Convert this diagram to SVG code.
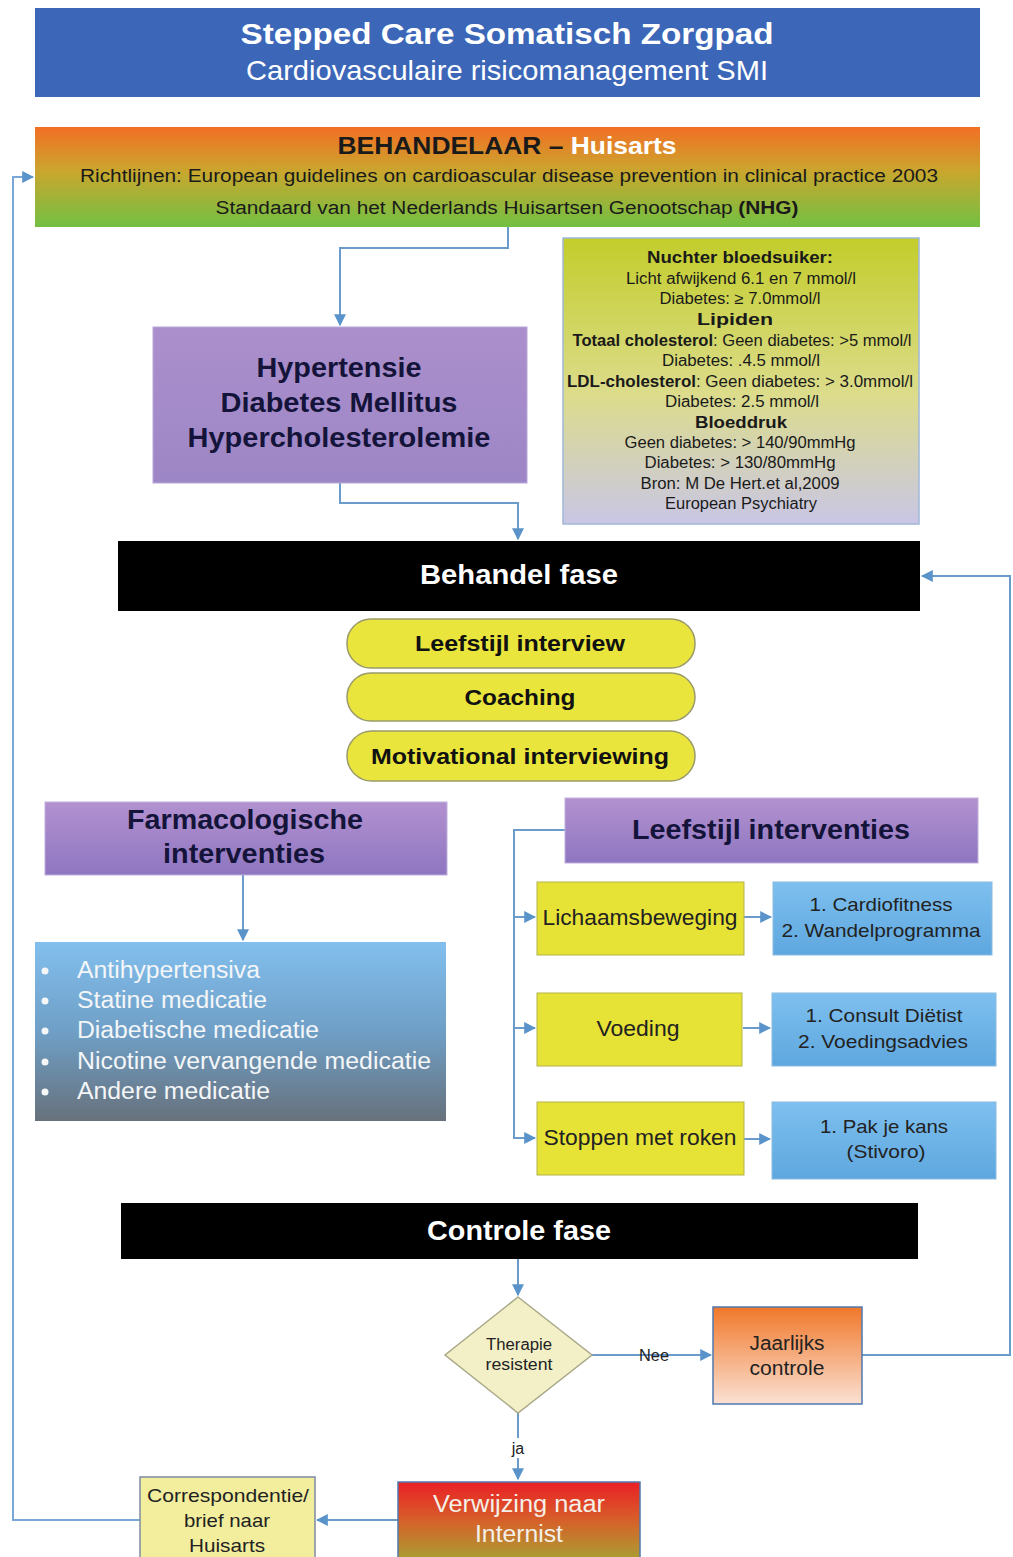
<svg xmlns="http://www.w3.org/2000/svg" width="1013" height="1557" viewBox="0 0 1013 1557">
<defs>
<linearGradient id="gOrangeGreen" x1="0" y1="0" x2="0" y2="1">
<stop offset="0" stop-color="#f26f24"/><stop offset="0.45" stop-color="#c9a72e"/><stop offset="1" stop-color="#72c043"/>
</linearGradient>
<linearGradient id="gInfo" x1="0" y1="0" x2="0" y2="1">
<stop offset="0" stop-color="#c3cd2a"/><stop offset="0.55" stop-color="#dcdc8c"/><stop offset="1" stop-color="#c9c6e6"/>
</linearGradient>
<linearGradient id="gPurple" x1="0" y1="0" x2="0" y2="1">
<stop offset="0" stop-color="#ab8fcc"/><stop offset="1" stop-color="#9d86c5"/>
</linearGradient>
<linearGradient id="gPurple2" x1="0" y1="0" x2="0" y2="1">
<stop offset="0" stop-color="#b391d0"/><stop offset="1" stop-color="#8e76c0"/>
</linearGradient>
<linearGradient id="gMed" x1="0" y1="0" x2="0" y2="1">
<stop offset="0" stop-color="#82bfee"/><stop offset="0.5" stop-color="#6f9fc6"/><stop offset="1" stop-color="#67717c"/>
</linearGradient>
<linearGradient id="gBlue" x1="0" y1="0" x2="0" y2="1">
<stop offset="0" stop-color="#7ec0ef"/><stop offset="1" stop-color="#5ea7df"/>
</linearGradient>
<linearGradient id="gJaar" x1="0" y1="0" x2="0" y2="1">
<stop offset="0" stop-color="#f0782a"/><stop offset="1" stop-color="#fbe1d3"/>
</linearGradient>
<linearGradient id="gVerw" x1="0" y1="0" x2="0" y2="1">
<stop offset="0" stop-color="#ea1f25"/><stop offset="0.5" stop-color="#d5632a"/><stop offset="1" stop-color="#a6a232"/>
</linearGradient>
<marker id="arrL" viewBox="0 0 10 10" refX="9" refY="5" markerWidth="12" markerHeight="12" orient="auto" markerUnits="userSpaceOnUse">
<path d="M0,0 L10,5 L0,10 z" fill="#5a93c9"/>
</marker>
</defs>
<style>
.t{font-family:"Liberation Sans",Arial,sans-serif;text-anchor:middle}
.b{font-weight:bold}
.c{fill:none;stroke:#6b9bcb;stroke-width:2}
.lp{fill:none;stroke:#7aa8d6;stroke-width:2}
.pill{fill:#e9e53c;stroke:#9a9a6a;stroke-width:1.5}
.yb{fill:#e7e236;stroke:#b3b34a;stroke-width:1}
.bb{fill:url(#gBlue);stroke:#8cbbe0;stroke-width:1}
</style>
<rect width="1013" height="1557" fill="#ffffff"/>

<g id="connectors">
<polyline class="lp" points="140,1520 13,1520 13,177 33,177" marker-end="url(#arrL)"/>
<polyline class="c" points="508,227 508,248 340,248 340,325" marker-end="url(#arrL)"/>
<polyline class="c" points="340,483 340,503 518,503 518,539" marker-end="url(#arrL)"/>
<polyline class="c" points="862,1355 1010,1355 1010,576 922,576" marker-end="url(#arrL)"/>
<polyline class="c" points="243,875 243,940" marker-end="url(#arrL)"/>
<polyline class="c" points="565,830 514,830 514,1138 535,1138" marker-end="url(#arrL)"/>
<polyline class="c" points="514,917 535,917" marker-end="url(#arrL)"/>
<polyline class="c" points="514,1028 535,1028" marker-end="url(#arrL)"/>
<polyline class="c" points="744,917 771,917" marker-end="url(#arrL)"/>
<polyline class="c" points="743,1028 770,1028" marker-end="url(#arrL)"/>
<polyline class="c" points="744,1139 770,1139" marker-end="url(#arrL)"/>
<polyline class="c" points="518,1259 518,1295" marker-end="url(#arrL)"/>
<polyline class="c" points="592,1355 711,1355" marker-end="url(#arrL)"/>
<polyline class="c" points="518,1413 518,1479" marker-end="url(#arrL)"/>
<polyline class="c" points="398,1520 317,1520" marker-end="url(#arrL)"/>
<text class="t" x="654" y="1361" font-size="16" fill="#222" textLength="30" lengthAdjust="spacingAndGlyphs">Nee</text>
<rect x="510" y="1438" width="16" height="20" fill="#ffffff"/>
<text class="t" x="518" y="1454" font-size="16" fill="#222">ja</text>
</g>

<g id="title">
<rect x="35" y="8" width="945" height="89" fill="#3c66b8"/>
<text class="t b" x="507" y="44" font-size="29" fill="#ffffff" textLength="533" lengthAdjust="spacingAndGlyphs">Stepped Care Somatisch Zorgpad</text>
<text class="t" x="507" y="80" font-size="28" fill="#ffffff" textLength="522" lengthAdjust="spacingAndGlyphs">Cardiovasculaire risicomanagement SMI</text>
</g>

<g id="behandelaar">
<rect x="35" y="127" width="945" height="100" fill="url(#gOrangeGreen)"/>
<text class="t b" x="507" y="154" font-size="24" fill="#1a1a1a" textLength="339" lengthAdjust="spacingAndGlyphs">BEHANDELAAR – <tspan fill="#ffffff">Huisarts</tspan></text>
<text class="t" x="509" y="182" font-size="18" fill="#1a1a1a" textLength="858" lengthAdjust="spacingAndGlyphs">Richtlijnen: European guidelines on cardioascular disease prevention in clinical practice 2003</text>
<text class="t" x="507" y="214" font-size="18" fill="#1a1a1a" textLength="583" lengthAdjust="spacingAndGlyphs">Standaard van het Nederlands Huisartsen Genootschap <tspan font-weight="bold">(NHG)</tspan></text>
</g>

<g id="criteria">
<rect x="563" y="238" width="356" height="286" fill="url(#gInfo)" stroke="#9fb8d8" stroke-width="1.5"/>
<g class="t" font-size="16" fill="#1a1a1a">
<text x="740" y="263" class="t b" textLength="186" lengthAdjust="spacingAndGlyphs">Nuchter bloedsuiker:</text>
<text x="741" y="284" textLength="230" lengthAdjust="spacingAndGlyphs">Licht afwijkend 6.1 en 7 mmol/l</text>
<text x="740" y="304" textLength="161" lengthAdjust="spacingAndGlyphs">Diabetes: ≥ 7.0mmol/l</text>
<text x="735" y="325" class="t b" textLength="76" lengthAdjust="spacingAndGlyphs">Lipiden</text>
<text x="742" y="346" textLength="339" lengthAdjust="spacingAndGlyphs"><tspan font-weight="bold">Totaal cholesterol</tspan>: Geen diabetes: &gt;5 mmol/l</text>
<text x="741" y="366" textLength="158" lengthAdjust="spacingAndGlyphs">Diabetes: .4.5 mmol/l</text>
<text x="740" y="387" textLength="346" lengthAdjust="spacingAndGlyphs"><tspan font-weight="bold">LDL-cholesterol</tspan>: Geen diabetes: &gt; 3.0mmol/l</text>
<text x="742" y="407" textLength="154" lengthAdjust="spacingAndGlyphs">Diabetes: 2.5 mmol/l</text>
<text x="741" y="428" class="t b" textLength="92" lengthAdjust="spacingAndGlyphs">Bloeddruk</text>
<text x="740" y="448" textLength="231" lengthAdjust="spacingAndGlyphs">Geen diabetes: &gt; 140/90mmHg</text>
<text x="740" y="468" textLength="191" lengthAdjust="spacingAndGlyphs">Diabetes: &gt; 130/80mmHg</text>
<text x="740" y="489" textLength="199" lengthAdjust="spacingAndGlyphs">Bron: M De Hert.et al,2009</text>
<text x="741" y="509" textLength="152" lengthAdjust="spacingAndGlyphs">European Psychiatry</text>
</g>
</g>

<g id="diagnoses">
<rect x="153" y="327" width="374" height="156" fill="url(#gPurple)" stroke="#b8a8d8" stroke-width="1"/>
<text class="t b" x="339" y="377" font-size="28" fill="#14143a" textLength="165" lengthAdjust="spacingAndGlyphs">Hypertensie</text>
<text class="t b" x="339" y="412" font-size="28" fill="#14143a" textLength="237" lengthAdjust="spacingAndGlyphs">Diabetes Mellitus</text>
<text class="t b" x="339" y="447" font-size="28" fill="#14143a" textLength="303" lengthAdjust="spacingAndGlyphs">Hypercholesterolemie</text>
</g>

<g id="behandel-fase">
<rect x="118" y="541" width="802" height="70" fill="#000000"/>
<text class="t b" x="519" y="584" font-size="27" fill="#ffffff" textLength="198" lengthAdjust="spacingAndGlyphs">Behandel fase</text>
</g>

<g id="leefstijl-interview">
<rect class="pill" x="347" y="619" width="348" height="49" rx="24"/>
<text class="t b" x="520" y="651" font-size="22" fill="#111" textLength="210" lengthAdjust="spacingAndGlyphs">Leefstijl interview</text>
</g>
<g id="coaching">
<rect class="pill" x="347" y="673" width="348" height="48" rx="24"/>
<text class="t b" x="520" y="705" font-size="22" fill="#111" textLength="111" lengthAdjust="spacingAndGlyphs">Coaching</text>
</g>
<g id="motivational-interviewing">
<rect class="pill" x="347" y="731" width="348" height="50" rx="25"/>
<text class="t b" x="520" y="764" font-size="22" fill="#111" textLength="298" lengthAdjust="spacingAndGlyphs">Motivational interviewing</text>
</g>

<g id="farmacologische">
<rect x="45" y="802" width="402" height="73" fill="url(#gPurple2)" stroke="#c0b0dc" stroke-width="1"/>
<text class="t b" x="245" y="829" font-size="28" fill="#14143a" textLength="236" lengthAdjust="spacingAndGlyphs">Farmacologische</text>
<text class="t b" x="244" y="863" font-size="28" fill="#14143a" textLength="162" lengthAdjust="spacingAndGlyphs">interventies</text>
</g>

<g id="medicatie">
<rect x="35" y="942" width="411" height="179" fill="url(#gMed)"/>
<g font-family="Liberation Sans, Arial, sans-serif" font-size="23" fill="#f4f6f8">
<circle cx="45" cy="971" r="3.5"/><text x="77" y="978" textLength="183" lengthAdjust="spacingAndGlyphs">Antihypertensiva</text>
<circle cx="45" cy="1001" r="3.5"/><text x="77" y="1008" textLength="190" lengthAdjust="spacingAndGlyphs">Statine medicatie</text>
<circle cx="45" cy="1031" r="3.5"/><text x="77" y="1038" textLength="242" lengthAdjust="spacingAndGlyphs">Diabetische medicatie</text>
<circle cx="45" cy="1062" r="3.5"/><text x="77" y="1069" textLength="354" lengthAdjust="spacingAndGlyphs">Nicotine vervangende medicatie</text>
<circle cx="45" cy="1092" r="3.5"/><text x="77" y="1099" textLength="193" lengthAdjust="spacingAndGlyphs">Andere medicatie</text>
</g>
</g>

<g id="leefstijl-interventies">
<rect x="565" y="798" width="413" height="65" fill="url(#gPurple2)" stroke="#c0b0dc" stroke-width="1"/>
<text class="t b" x="771" y="839" font-size="28" fill="#14143a" textLength="278" lengthAdjust="spacingAndGlyphs">Leefstijl interventies</text>
</g>

<g id="lichaamsbeweging">
<rect class="yb" x="537" y="882" width="207" height="73"/>
<text class="t" x="640" y="925" font-size="22" fill="#222" textLength="195" lengthAdjust="spacingAndGlyphs">Lichaamsbeweging</text>
</g>
<g id="voeding">
<rect class="yb" x="537" y="993" width="205" height="73"/>
<text class="t" x="638" y="1036" font-size="22" fill="#222" textLength="83" lengthAdjust="spacingAndGlyphs">Voeding</text>
</g>
<g id="stoppen">
<rect class="yb" x="537" y="1102" width="207" height="73"/>
<text class="t" x="640" y="1145" font-size="22" fill="#222" textLength="193" lengthAdjust="spacingAndGlyphs">Stoppen met roken</text>
</g>

<g id="beweging-opties">
<rect class="bb" x="773" y="882" width="219" height="73"/>
<text class="t" x="881" y="911" font-size="19" fill="#222" textLength="143" lengthAdjust="spacingAndGlyphs">1. Cardiofitness</text>
<text class="t" x="881" y="937" font-size="19" fill="#222" textLength="199" lengthAdjust="spacingAndGlyphs">2. Wandelprogramma</text>
</g>
<g id="voeding-opties">
<rect class="bb" x="772" y="993" width="224" height="73"/>
<text class="t" x="884" y="1022" font-size="19" fill="#222" textLength="157" lengthAdjust="spacingAndGlyphs">1. Consult Diëtist</text>
<text class="t" x="883" y="1048" font-size="19" fill="#222" textLength="170" lengthAdjust="spacingAndGlyphs">2. Voedingsadvies</text>
</g>
<g id="roken-opties">
<rect class="bb" x="772" y="1102" width="224" height="77"/>
<text class="t" x="884" y="1133" font-size="19" fill="#222" textLength="128" lengthAdjust="spacingAndGlyphs">1. Pak je kans</text>
<text class="t" x="886" y="1158" font-size="19" fill="#222" textLength="79" lengthAdjust="spacingAndGlyphs">(Stivoro)</text>
</g>

<g id="controle-fase">
<rect x="121" y="1203" width="797" height="56" fill="#000000"/>
<text class="t b" x="519" y="1240" font-size="27" fill="#ffffff" textLength="184" lengthAdjust="spacingAndGlyphs">Controle fase</text>
</g>

<g id="therapie-resistent">
<polygon points="518,1297 592,1355 518,1413 445,1355" fill="#f3efc6" stroke="#a9a98a" stroke-width="1.5"/>
<text class="t" x="519" y="1350" font-size="16" fill="#222" textLength="66" lengthAdjust="spacingAndGlyphs">Therapie</text>
<text class="t" x="519" y="1370" font-size="16" fill="#222" textLength="67" lengthAdjust="spacingAndGlyphs">resistent</text>
</g>

<g id="jaarlijks-controle">
<rect x="713" y="1307" width="149" height="97" fill="url(#gJaar)" stroke="#4f78b0" stroke-width="1.5"/>
<text class="t" x="787" y="1350" font-size="20" fill="#222" textLength="75" lengthAdjust="spacingAndGlyphs">Jaarlijks</text>
<text class="t" x="787" y="1375" font-size="20" fill="#222" textLength="75" lengthAdjust="spacingAndGlyphs">controle</text>
</g>

<g id="verwijzing">
<rect x="398" y="1482" width="242" height="80" fill="url(#gVerw)" stroke="#4f78b0" stroke-width="1.5"/>
<text class="t" x="519" y="1512" font-size="23" fill="#f4f0e8" textLength="172" lengthAdjust="spacingAndGlyphs">Verwijzing naar</text>
<text class="t" x="519" y="1542" font-size="23" fill="#f4f0e8" textLength="88" lengthAdjust="spacingAndGlyphs">Internist</text>
</g>

<g id="correspondentie">
<rect x="140" y="1477" width="175" height="85" fill="#f3ee9e" stroke="#7d8aa0" stroke-width="1.5"/>
<text class="t" x="228" y="1502" font-size="19" fill="#222" textLength="162" lengthAdjust="spacingAndGlyphs">Correspondentie/</text>
<text class="t" x="227" y="1527" font-size="19" fill="#222" textLength="86" lengthAdjust="spacingAndGlyphs">brief naar</text>
<text class="t" x="227" y="1552" font-size="19" fill="#222" textLength="76" lengthAdjust="spacingAndGlyphs">Huisarts</text>
</g>
</svg>
